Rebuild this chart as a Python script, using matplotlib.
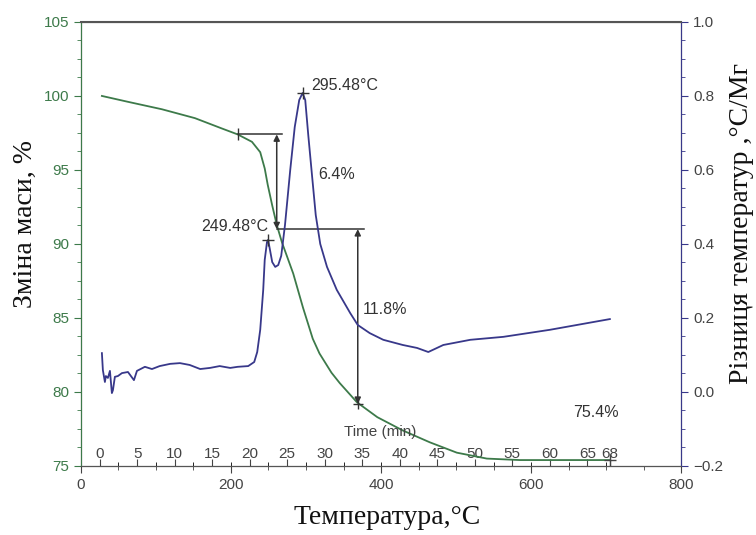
import matplotlib.pyplot as plt
import numpy as np

# TG curve: temperature (C) vs mass change (%)
tg_temp = [28, 63, 108, 152, 188, 209, 228, 239, 245, 249, 255, 261, 268, 283,
           296, 309, 318, 334, 345, 368, 395, 429, 465, 501, 541, 585, 625, 705]
tg_mass = [100.0, 99.6, 99.1, 98.5, 97.8, 97.4, 96.9, 96.2, 95.1, 94.0, 92.6,
           91.3, 90.1, 88.0, 85.7, 83.6, 82.6, 81.3, 80.6, 79.3, 78.3, 77.4,
           76.6, 75.9, 75.5, 75.4, 75.4, 75.4]
residue = 75.4

# DTA curve: temperature (C) vs temperature difference (C/mg)
dta_temp = [28, 29.3, 32, 33.3, 36, 38.7, 41.3, 42.7, 45.3, 49.3, 54.7, 62.7,
            70.7, 74.7, 85.3, 94.7, 105, 119, 132, 145, 159, 172, 185, 199,
            209, 223, 231, 235, 239, 243, 245, 248, 249.5, 252, 255, 259, 263,
            267, 272, 279, 285, 291, 295.5, 299, 303, 308, 313, 319, 328, 341,
            359, 369, 385, 403, 429, 448, 463, 483, 519, 563, 625, 705]
dta_val = [0.105, 0.059, 0.027, 0.043, 0.038, 0.057, -0.003, 0.005, 0.041,
           0.043, 0.051, 0.054, 0.032, 0.057, 0.068, 0.062, 0.070, 0.076,
           0.078, 0.073, 0.062, 0.065, 0.070, 0.065, 0.068, 0.070, 0.081,
           0.108, 0.168, 0.276, 0.357, 0.405, 0.411, 0.384, 0.351, 0.338,
           0.343, 0.368, 0.451, 0.600, 0.716, 0.789, 0.808, 0.789, 0.695,
           0.586, 0.478, 0.400, 0.338, 0.276, 0.213, 0.181, 0.159, 0.141,
           0.127, 0.119, 0.108, 0.127, 0.141, 0.149, 0.168, 0.197]

# time scale (min) shown inside the plot
time_ticks = [0, 5, 10, 15, 20, 25, 30, 35, 40, 45, 50, 55, 60, 65, 68]
t_start = 25
rate = 10

# mass loss steps
step1_top, step1_mid, step1_bot = 97.4, 91.0, 79.2
peak1_t, peak2_t = 249.48, 295.48

green = '#3d7a4a'
blue = '#38388a'
gray = '#444444'

fig = plt.figure(figsize=(7.56, 5.35), dpi=100)
ax = fig.add_axes([0.107, 0.129, 0.794, 0.83])
ax2 = ax.twinx()

ax.plot(tg_temp, tg_mass, color=green, lw=1.3)
ax.plot(tg_temp[-1], tg_mass[-1], marker='+', color=gray, ms=8)
ax2.plot(dta_temp, dta_val, color=blue, lw=1.3)

ax.set_xlim(0, 800)
ax.set_ylim(75, 105)
ax2.set_ylim(-0.2, 1.0)
ax.set_xticks([0, 200, 400, 600, 800])
ax.set_xticks(np.arange(0, 801, 50), minor=True)
ax.set_yticks([75, 80, 85, 90, 95, 100, 105])
ax.set_yticks(np.arange(75, 105.1, 1.25), minor=True)
ax2.set_yticks([-0.2, 0.0, 0.2, 0.4, 0.6, 0.8, 1.0])
ax2.set_yticks(np.arange(-0.2, 1.01, 0.05), minor=True)

ax.tick_params(axis='y', colors=green, labelsize=11, length=5)
ax.tick_params(axis='y', which='minor', colors=green, length=3)
ax.tick_params(axis='x', colors=gray, labelsize=11, length=5)
ax.tick_params(axis='x', which='minor', colors=gray, length=3)
ax2.tick_params(axis='y', colors=blue, labelcolor=gray, labelsize=11, length=5)
ax2.tick_params(axis='y', which='minor', colors=blue, length=3)
for lab in ax.get_xticklabels() + ax.get_yticklabels() + ax2.get_yticklabels():
    lab.set_family('Liberation Sans')

ax2.spines['left'].set_color(green)
ax2.spines['right'].set_color(blue)
ax2.spines['top'].set_color('#555555')
ax2.spines['bottom'].set_color('#555555')
ax2.spines['top'].set_linewidth(1.5)

# time axis
sec = ax.secondary_xaxis('bottom', functions=(lambda T: (T - t_start) / rate,
                                               lambda t: t_start + rate * t))
sec.set_xticks(time_ticks)
sec.set_xticks(np.arange(0, 68, 2.5), minor=True)
sec.tick_params(direction='in', length=5, pad=-14, colors=gray, labelsize=11)
sec.tick_params(which='minor', direction='in', length=3)
sec.spines['bottom'].set_visible(False)
for lab in sec.get_xticklabels():
    lab.set_family('Liberation Sans')
ax.text(350, 77.3, 'Time (min)', fontsize=11, color=gray,
        family='Liberation Sans', ha='left', va='center')

# annotations
arr = dict(arrowstyle='<|-|>', color='#333333', lw=1.1, mutation_scale=9,
           shrinkA=0, shrinkB=0)
ax.plot([209, 268], [step1_top, step1_top], color='#333333', lw=1.1)
ax.plot(209, step1_top, marker='|', color='#333333', ms=8)
ax.annotate('', xy=(261, step1_mid), xytext=(261, step1_top), arrowprops=arr)
ax.plot([261, 377], [step1_mid, step1_mid], color='#333333', lw=1.1)
ax.annotate('', xy=(369, step1_bot), xytext=(369, step1_mid), arrowprops=arr)
ax.plot(369, step1_bot, marker='+', color='#333333', ms=7)

ax2.plot(peak1_t, 0.411, marker='+', color='#333333', ms=9)
ax2.plot(peak2_t, 0.808, marker='+', color='#333333', ms=9)

txt = dict(fontsize=11.5, color='#333333', family='Liberation Sans')
ax.text(307, 100.7, '%.2f°C' % peak2_t, ha='left', va='center', **txt)
ax.text(250, 91.2, '%.2f°C' % peak1_t, ha='right', va='center', **txt)
ax.text(316, 94.7, '%.1f%%' % (step1_top - step1_mid), ha='left', va='center', **txt)
ax.text(376, 85.6, '%.1f%%' % (step1_mid - step1_bot), ha='left', va='center', **txt)
ax.text(687, 78.6, '%.1f%%' % residue, ha='center', va='center', **txt)

lab = dict(family='Liberation Serif', color='#111111')
fig.text(0.033, 1 - 224 / 535, 'Зміна маси, %', rotation=90, ha='center', va='center',
         fontsize=20, **lab)
fig.text(741 / 756, 1 - 223 / 535, 'Різниця температур ,°С/Мг', rotation=90, ha='center',
         va='center', fontsize=20, **lab)
fig.text(387 / 756, 1 - 517 / 535, 'Температура,°C', ha='center', va='center',
         fontsize=20, **lab)

fig.savefig('out.png', dpi=100)
